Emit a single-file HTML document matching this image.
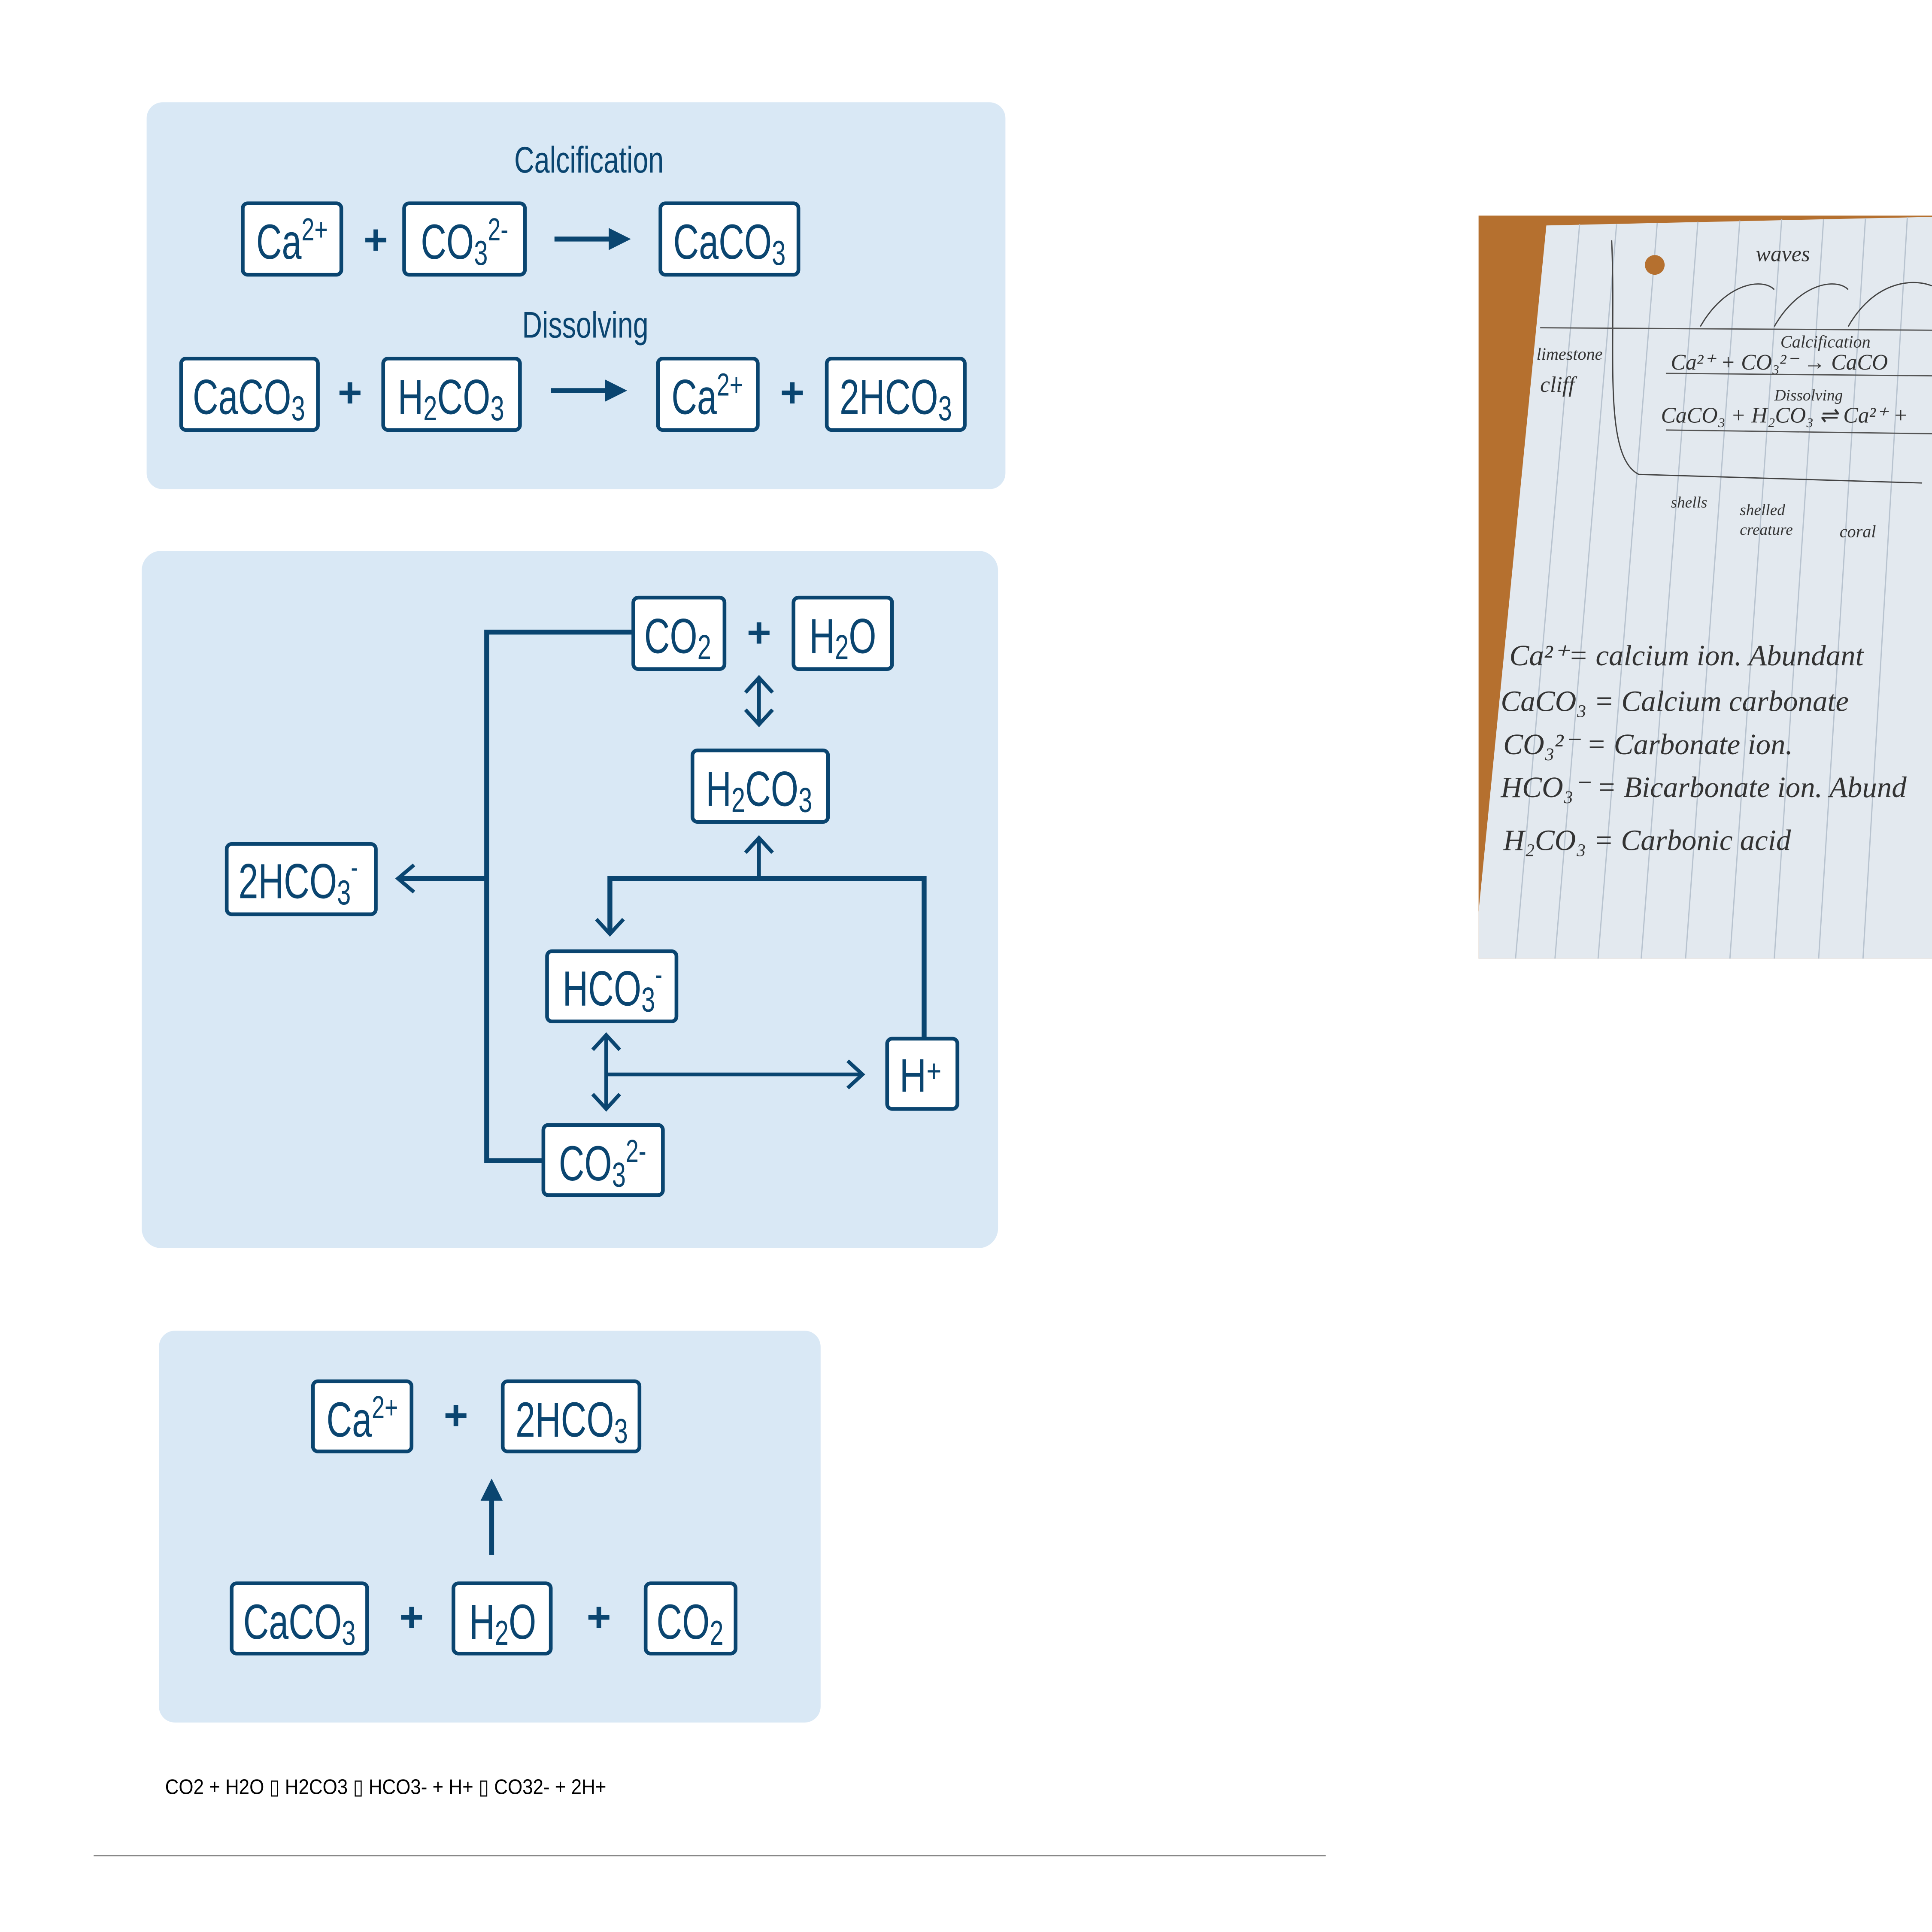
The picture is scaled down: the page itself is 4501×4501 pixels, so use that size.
<!DOCTYPE html>
<html><head><meta charset="utf-8"><style>
html,body{margin:0;padding:0;background:#fff;}
svg{display:block;}
.t{font-family:"Liberation Sans",sans-serif;fill:#0a4570;}
.p{font-family:"Liberation Sans",sans-serif;fill:#0a4570;font-weight:bold;}
.b{fill:#fff;stroke:#0a4570;stroke-width:3;}
.l{stroke:#0a4570;stroke-width:4;fill:none;}
.o{stroke:#0a4570;stroke-width:3;fill:none;}
.h{font-family:"Liberation Serif",serif;font-style:italic;fill:#333;}
</style></head><body>
<svg width="4501" height="4501" viewBox="0 0 1568 1568" xmlns="http://www.w3.org/2000/svg">
<!-- Panel 1 -->
<rect x="119" y="83" width="697" height="314" rx="13" fill="#d9e8f5"/>
<g transform="translate(478,140) scale(0.75,1)"><text class="t" font-size="30" text-anchor="middle">Calcification</text></g>
<rect class="b" x="197" y="165" width="80" height="58" rx="4"/>
<g transform="translate(237,210) scale(0.72,1)"><text class="t" font-size="40" text-anchor="middle">Ca<tspan font-size="26" dy="-15">2+</tspan></text></g>
<text class="p" x="305" y="206" font-size="34" text-anchor="middle">+</text>
<rect class="b" x="328" y="165" width="98" height="58" rx="4"/>
<g transform="translate(377,210) scale(0.72,1)"><text class="t" font-size="40" text-anchor="middle">CO<tspan font-size="28" dy="5">3</tspan><tspan font-size="26" dy="-20">2-</tspan></text></g>
<line class="l" x1="450" y1="194" x2="496" y2="194"/><polygon points="494,185 512,194 494,203" fill="#0a4570"/>
<rect class="b" x="536" y="165" width="112" height="58" rx="4"/>
<g transform="translate(592,210) scale(0.72,1)"><text class="t" font-size="40" text-anchor="middle">CaCO<tspan font-size="28" dy="5">3</tspan></text></g>
<g transform="translate(475,274) scale(0.75,1)"><text class="t" font-size="30" text-anchor="middle">Dissolving</text></g>
<rect class="b" x="147" y="291" width="111" height="58" rx="4"/>
<g transform="translate(202,336) scale(0.72,1)"><text class="t" font-size="40" text-anchor="middle">CaCO<tspan font-size="28" dy="5">3</tspan></text></g>
<text class="p" x="284" y="330" font-size="34" text-anchor="middle">+</text>
<rect class="b" x="311" y="291" width="111" height="58" rx="4"/>
<g transform="translate(366,336) scale(0.72,1)"><text class="t" font-size="40" text-anchor="middle">H<tspan font-size="28" dy="5">2</tspan><tspan dy="-5">CO</tspan><tspan font-size="28" dy="5">3</tspan></text></g>
<line class="l" x1="447" y1="317" x2="493" y2="317"/><polygon points="491,308 509,317 491,326" fill="#0a4570"/>
<rect class="b" x="534" y="291" width="81" height="58" rx="4"/>
<g transform="translate(574,336) scale(0.72,1)"><text class="t" font-size="40" text-anchor="middle">Ca<tspan font-size="26" dy="-15">2+</tspan></text></g>
<text class="p" x="643" y="330" font-size="34" text-anchor="middle">+</text>
<rect class="b" x="671" y="291" width="112" height="58" rx="4"/>
<g transform="translate(727,336) scale(0.72,1)"><text class="t" font-size="40" text-anchor="middle">2HCO<tspan font-size="28" dy="5">3</tspan></text></g>

<!-- Panel 2 -->
<rect x="115" y="447" width="695" height="566" rx="16" fill="#d9e8f5"/>
<polyline class="l" points="514,513 395,513 395,942 441,942"/>
<line class="l" x1="395" y1="713" x2="324" y2="713"/>
<polyline class="o" points="336,702 323,713 336,724"/>
<rect class="b" x="184" y="685" width="121" height="57" rx="4"/>
<g transform="translate(242,729) scale(0.72,1)"><text class="t" font-size="40" text-anchor="middle">2HCO<tspan font-size="28" dy="5">3</tspan><tspan font-size="24" dy="-22">-</tspan></text></g>
<rect class="b" x="514" y="485" width="74" height="58" rx="4"/>
<g transform="translate(550,530) scale(0.72,1)"><text class="t" font-size="40" text-anchor="middle">CO<tspan font-size="28" dy="5">2</tspan></text></g>
<text class="p" x="616" y="525" font-size="34" text-anchor="middle">+</text>
<rect class="b" x="644" y="485" width="80" height="58" rx="4"/>
<g transform="translate(684,530) scale(0.72,1)"><text class="t" font-size="40" text-anchor="middle">H<tspan font-size="28" dy="5">2</tspan><tspan dy="-5">O</tspan></text></g>
<line class="o" x1="616" y1="550" x2="616" y2="588"/>
<polyline class="o" points="605,562 616,550 627,562"/><polyline class="o" points="605,576 616,588 627,576"/>
<rect class="b" x="562" y="609" width="110" height="58" rx="4"/>
<g transform="translate(616,654) scale(0.72,1)"><text class="t" font-size="40" text-anchor="middle">H<tspan font-size="28" dy="5">2</tspan><tspan dy="-5">CO</tspan><tspan font-size="28" dy="5">3</tspan></text></g>
<line class="o" x1="616" y1="680" x2="616" y2="713"/>
<polyline class="o" points="605,692 616,680 627,692"/>
<polyline class="l" points="495,758 495,713 750,713 750,843"/>
<polyline class="o" points="484,746 495,758 506,746"/>
<rect class="b" x="444" y="772" width="105" height="57" rx="4"/>
<g transform="translate(497,816) scale(0.72,1)"><text class="t" font-size="40" text-anchor="middle">HCO<tspan font-size="28" dy="5">3</tspan><tspan font-size="24" dy="-22">-</tspan></text></g>
<line class="o" x1="492" y1="840" x2="492" y2="900"/>
<polyline class="o" points="481,852 492,840 503,852"/><polyline class="o" points="481,888 492,900 503,888"/>
<line class="o" x1="492" y1="872" x2="700" y2="872"/>
<polyline class="o" points="688,861 700,872 688,883"/>
<rect class="b" x="720" y="843" width="57" height="57" rx="4"/>
<g transform="translate(747,886) scale(0.8,1)"><text class="t" font-size="38" text-anchor="middle">H<tspan font-size="26" dy="-8">+</tspan></text></g>
<rect class="b" x="441" y="913" width="97" height="57" rx="4"/>
<g transform="translate(489,958) scale(0.72,1)"><text class="t" font-size="40" text-anchor="middle">CO<tspan font-size="28" dy="5">3</tspan><tspan font-size="26" dy="-20">2-</tspan></text></g>

<!-- Panel 3 -->
<rect x="129" y="1080" width="537" height="318" rx="13" fill="#d9e8f5"/>
<rect class="b" x="254" y="1121" width="80" height="57" rx="4"/>
<g transform="translate(294,1166) scale(0.72,1)"><text class="t" font-size="40" text-anchor="middle">Ca<tspan font-size="26" dy="-15">2+</tspan></text></g>
<text class="p" x="370" y="1160" font-size="34" text-anchor="middle">+</text>
<rect class="b" x="408" y="1121" width="111" height="57" rx="4"/>
<g transform="translate(464,1166) scale(0.72,1)"><text class="t" font-size="40" text-anchor="middle">2HCO<tspan font-size="28" dy="5">3</tspan></text></g>
<line class="l" x1="399" y1="1262" x2="399" y2="1216"/><polygon points="390,1218 399,1200 408,1218" fill="#0a4570"/>
<rect class="b" x="188" y="1285" width="110" height="57" rx="4"/>
<g transform="translate(243,1330) scale(0.72,1)"><text class="t" font-size="40" text-anchor="middle">CaCO<tspan font-size="28" dy="5">3</tspan></text></g>
<text class="p" x="334" y="1324" font-size="34" text-anchor="middle">+</text>
<rect class="b" x="368" y="1285" width="79" height="57" rx="4"/>
<g transform="translate(408,1330) scale(0.72,1)"><text class="t" font-size="40" text-anchor="middle">H<tspan font-size="28" dy="5">2</tspan><tspan dy="-5">O</tspan></text></g>
<text class="p" x="486" y="1324" font-size="34" text-anchor="middle">+</text>
<rect class="b" x="524" y="1285" width="73" height="57" rx="4"/>
<g transform="translate(560,1330) scale(0.72,1)"><text class="t" font-size="40" text-anchor="middle">CO<tspan font-size="28" dy="5">2</tspan></text></g>

<g transform="translate(134,1456) scale(0.9,1)"><text font-family="Liberation Sans,sans-serif" font-size="17" fill="#000">CO2 + H2O ▯ H2CO3 ▯ HCO3- + H+ ▯ CO32- + 2H+</text></g>
<line x1="76" y1="1506" x2="1076" y2="1506" stroke="#888" stroke-width="1"/>

<!-- Photo -->
<rect x="1200" y="175" width="368" height="603" fill="#b5702f"/>
<polygon points="1255,183 1568,176 1568,778 1200,778 1200,740" fill="#e3e9ef"/>
<g stroke="#b8c3cf" stroke-width="1">
<line x1="1282" y1="182" x2="1230" y2="778"/><line x1="1312" y1="182" x2="1262" y2="778"/>
<line x1="1345" y1="181" x2="1297" y2="778"/><line x1="1378" y1="180" x2="1332" y2="778"/>
<line x1="1412" y1="179" x2="1368" y2="778"/><line x1="1446" y1="178" x2="1404" y2="778"/>
<line x1="1480" y1="178" x2="1440" y2="778"/><line x1="1514" y1="177" x2="1476" y2="778"/>
<line x1="1548" y1="176" x2="1512" y2="778"/>
</g>
<circle cx="1343" cy="215" r="8" fill="#b5702f"/>
<path d="M1308,195 C1312,280 1300,370 1330,385 L1560,392" stroke="#444" fill="none"/>
<line x1="1250" y1="266" x2="1568" y2="268" stroke="#555"/>
<line x1="1352" y1="303" x2="1568" y2="305" stroke="#555"/><line x1="1352" y1="349" x2="1568" y2="352" stroke="#555"/>
<path d="M1380,265 C1400,230 1430,225 1440,235 M1440,265 C1460,230 1490,225 1500,235 M1500,265 C1520,230 1550,225 1568,232" stroke="#444" fill="none"/>
<text class="h" x="1425" y="212" font-size="18">waves</text>
<text class="h" x="1247" y="292" font-size="14">limestone</text>
<text class="h" x="1250" y="318" font-size="18">cliff</text>
<text class="h" x="1445" y="282" font-size="14">Calcification</text>
<text class="h" x="1356" y="300" font-size="18">Ca²⁺ + CO₃²⁻ → CaCO</text>
<text class="h" x="1440" y="325" font-size="13">Dissolving</text>
<text class="h" x="1348" y="343" font-size="18">CaCO₃ + H₂CO₃ ⇌ Ca²⁺ +</text>
<text class="h" x="1356" y="412" font-size="13">shells</text>
<text class="h" x="1412" y="418" font-size="13">shelled</text>
<text class="h" x="1412" y="434" font-size="13">creature</text>
<text class="h" x="1493" y="436" font-size="14">coral</text>
<text class="h" x="1225" y="540" font-size="24">Ca²⁺= calcium ion. Abundant</text>
<text class="h" x="1218" y="577" font-size="24">CaCO₃ = Calcium carbonate</text>
<text class="h" x="1220" y="612" font-size="24">CO₃²⁻ = Carbonate ion.</text>
<text class="h" x="1218" y="647" font-size="24">HCO₃⁻ = Bicarbonate ion. Abund</text>
<text class="h" x="1220" y="690" font-size="24">H₂CO₃ = Carbonic acid</text>
</svg>
</body></html>
